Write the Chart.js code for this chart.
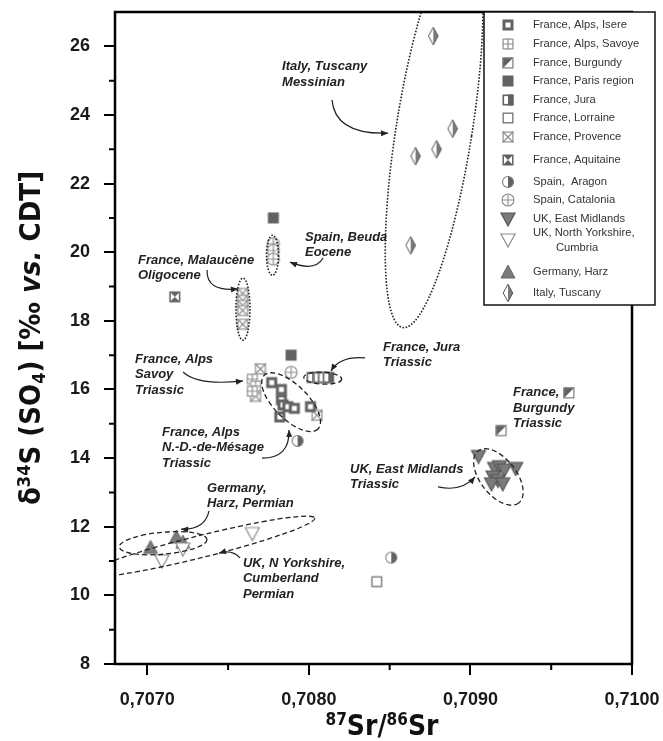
<!DOCTYPE html>
<html>
<head>
<meta charset="utf-8">
<script src="https://cdn.jsdelivr.net/npm/chart.js@4.4.0/dist/chart.umd.min.js"></script>
<style>
  html, body { margin: 0; padding: 0; background: #fff; }
  #wrap { width: 663px; height: 741px; }
</style>
</head>
<body>
<div id="wrap"><canvas id="grafico" width="663" height="741"></canvas></div>
<script>
// axis ticks
const xTicks = [0.7070, 0.7080, 0.7090, 0.7100];
const xMinorTicks = [0.7075, 0.7085, 0.7095];
const yTicks = [8, 10, 12, 14, 16, 18, 20, 22, 24, 26];
const yMinorTicks = [9, 11, 13, 15, 17, 19, 21, 23, 25];

// series values (87Sr/86Sr, d34S)
const isereSr = [0.70777, 0.70783, 0.70783, 0.70784, 0.70787, 0.70791, 0.70801, 0.70782];
const isereS = [16.2, 16.0, 15.7, 15.55, 15.5, 15.45, 15.5, 15.2];
const savoyeSr = [0.70765, 0.70767, 0.70765];
const savoyeS = [16.3, 16.1, 15.95];
const burgundySr = [0.70961, 0.70919];
const burgundyS = [15.9, 14.8];
const parisSr = [0.70778, 0.70789];
const parisS = [21.0, 17.0];
const juraSr = [0.70802, 0.70806, 0.70809, 0.70812];
const juraS = [16.35, 16.35, 16.35, 16.35];
const lorraineSr = [0.70842];
const lorraineS = [10.4];
const provenceSr = [0.70759, 0.70759, 0.70759, 0.70759, 0.70759, 0.70770, 0.70767, 0.70805];
const provenceS = [18.8, 18.6, 18.45, 18.3, 17.9, 16.6, 15.8, 15.25];
const aquitaineSr = [0.70717];
const aquitaineS = [18.7];
const aragonSr = [0.70793, 0.70851];
const aragonS = [14.5, 11.1];
const cataloniaSr = [0.70778, 0.70778, 0.70778, 0.70789];
const cataloniaS = [20.25, 20.05, 19.8, 16.5];
const eastMidSr = [0.70905, 0.70915, 0.70918, 0.70921, 0.70928, 0.70914, 0.70917, 0.70913, 0.70920];
const eastMidS = [14.05, 13.7, 13.75, 13.65, 13.7, 13.45, 13.35, 13.25, 13.25];
const yorksSr = [0.70709, 0.70722, 0.70765];
const yorksS = [11.0, 11.35, 11.8];
const harzSr = [0.70702, 0.70718, 0.70722];
const harzS = [11.4, 11.7, 11.55];
const tuscanySr = [0.70877, 0.70889, 0.70879, 0.70866, 0.70863];
const tuscanyS = [26.3, 23.6, 23.0, 22.8, 20.2];

const NARROW = '"DejaVu Sans Condensed", "Liberation Sans", Arial, sans-serif';
const SANS = '"Liberation Sans", Arial, sans-serif';

// marker glyphs, drawn around the centre of a 22px canvas
function makeMarker(kind) {
  const cv = document.createElement('canvas');
  cv.width = 22; cv.height = 22;
  const g = cv.getContext('2d');
  const c = 11, h = 5.5;
  const dark = '#626262', mid = '#7b7b7b', light = '#8e8e8e';
  const box = (lw, col) => { g.strokeStyle = col; g.lineWidth = lw; g.strokeRect(c - h + lw / 2, c - h + lw / 2, 2 * h - lw, 2 * h - lw); };
  const white = () => { g.fillStyle = '#fff'; g.fillRect(c - h, c - h, 2 * h, 2 * h); };
  switch (kind) {
    case 'isere':
      g.fillStyle = dark; g.fillRect(c - h, c - h, 2 * h, 2 * h);
      g.fillStyle = '#fff'; g.fillRect(c - h + 3, c - h + 3, 2 * h - 6, 2 * h - 6);
      break;
    case 'savoye':
      white(); box(1.2, light);
      g.beginPath(); g.moveTo(c, c - h); g.lineTo(c, c + h); g.moveTo(c - h, c); g.lineTo(c + h, c); g.stroke();
      break;
    case 'burgundy':
      white();
      g.fillStyle = dark;
      g.beginPath(); g.moveTo(c - h, c + h); g.lineTo(c - h, c - h); g.lineTo(c + h, c - h); g.closePath(); g.fill();
      box(1.2, mid);
      break;
    case 'paris':
      g.fillStyle = dark; g.fillRect(c - h, c - h, 2 * h, 2 * h);
      break;
    case 'jura':
      white();
      g.fillStyle = dark; g.fillRect(c, c - h, h, 2 * h);
      box(1.6, dark);
      break;
    case 'lorraine':
      white(); box(1.4, mid);
      break;
    case 'provence':
      white(); box(1.2, light);
      g.beginPath(); g.moveTo(c - h, c - h); g.lineTo(c + h, c + h); g.moveTo(c + h, c - h); g.lineTo(c - h, c + h); g.stroke();
      break;
    case 'aquitaine':
      g.fillStyle = dark; g.fillRect(c - h, c - h, 2 * h, 2 * h);
      g.fillStyle = '#fff';
      g.beginPath(); g.moveTo(c - h + 1.5, c - h + 1.5); g.lineTo(c, c); g.lineTo(c - h + 1.5, c + h - 1.5); g.closePath(); g.fill();
      g.beginPath(); g.moveTo(c + h - 1.5, c - h + 1.5); g.lineTo(c, c); g.lineTo(c + h - 1.5, c + h - 1.5); g.closePath(); g.fill();
      break;
    case 'aragon':
      g.fillStyle = '#fff'; g.beginPath(); g.arc(c, c, 5.5, 0, Math.PI * 2); g.fill();
      g.fillStyle = dark; g.beginPath(); g.arc(c, c, 5.5, -Math.PI / 2, Math.PI / 2); g.fill();
      g.strokeStyle = mid; g.lineWidth = 1.1; g.beginPath(); g.arc(c, c, 5.5, 0, Math.PI * 2); g.stroke();
      break;
    case 'catalonia':
      g.fillStyle = '#fff'; g.beginPath(); g.arc(c, c, 6, 0, Math.PI * 2); g.fill();
      g.strokeStyle = light; g.lineWidth = 1.1; g.stroke();
      g.beginPath(); g.moveTo(c, c - 6); g.lineTo(c, c + 6); g.moveTo(c - 6, c); g.lineTo(c + 6, c); g.stroke();
      break;
    case 'eastmid':
      g.fillStyle = mid; g.strokeStyle = '#555'; g.lineWidth = 1.2;
      g.beginPath(); g.moveTo(c - 7, c - 6); g.lineTo(c + 7, c - 6); g.lineTo(c, c + 7); g.closePath(); g.fill(); g.stroke();
      break;
    case 'yorks':
      g.fillStyle = '#fff'; g.strokeStyle = light; g.lineWidth = 1.2;
      g.beginPath(); g.moveTo(c - 7, c - 6); g.lineTo(c + 7, c - 6); g.lineTo(c, c + 7); g.closePath(); g.fill(); g.stroke();
      break;
    case 'harz':
      g.fillStyle = mid; g.strokeStyle = '#6a6a6a'; g.lineWidth = 1;
      g.beginPath(); g.moveTo(c, c - 7); g.lineTo(c + 7, c + 6); g.lineTo(c - 7, c + 6); g.closePath(); g.fill(); g.stroke();
      break;
    case 'tuscany': {
      const dw = 4.8, dh = 8.8;
      g.fillStyle = '#fff';
      g.beginPath(); g.moveTo(c, c - dh); g.lineTo(c + dw, c); g.lineTo(c, c + dh); g.lineTo(c - dw, c); g.closePath(); g.fill();
      g.fillStyle = mid;
      g.beginPath(); g.moveTo(c, c - dh); g.lineTo(c + dw, c); g.lineTo(c, c + dh); g.closePath(); g.fill();
      g.strokeStyle = '#555'; g.lineWidth = 1;
      g.beginPath(); g.moveTo(c, c - dh); g.lineTo(c + dw, c); g.lineTo(c, c + dh); g.lineTo(c - dw, c); g.closePath(); g.stroke();
      break;
    }
  }
  return cv;
}

const series = [
  { label: 'France, Alps, Isere', kind: 'isere', sr: isereSr, s: isereS },
  { label: 'France, Alps, Savoye', kind: 'savoye', sr: savoyeSr, s: savoyeS },
  { label: 'France, Burgundy', kind: 'burgundy', sr: burgundySr, s: burgundyS },
  { label: 'France, Paris region', kind: 'paris', sr: parisSr, s: parisS },
  { label: 'France, Jura', kind: 'jura', sr: juraSr, s: juraS },
  { label: 'France, Lorraine', kind: 'lorraine', sr: lorraineSr, s: lorraineS },
  { label: 'France, Provence', kind: 'provence', sr: provenceSr, s: provenceS },
  { label: 'France, Aquitaine', kind: 'aquitaine', sr: aquitaineSr, s: aquitaineS },
  { label: 'Spain,  Aragon', kind: 'aragon', sr: aragonSr, s: aragonS },
  { label: 'Spain, Catalonia', kind: 'catalonia', sr: cataloniaSr, s: cataloniaS },
  { label: 'UK, East Midlands', kind: 'eastmid', sr: eastMidSr, s: eastMidS },
  { label: 'UK, North Yorkshire,\nCumbria', kind: 'yorks', sr: yorksSr, s: yorksS },
  { label: 'Germany, Harz', kind: 'harz', sr: harzSr, s: harzS },
  { label: 'Italy, Tuscany', kind: 'tuscany', sr: tuscanySr, s: tuscanyS }
];
series.forEach(d => { d.glyph = makeMarker(d.kind); });

// field groupings: centre in data units, half axes in px, rotation in degrees
const ellipses = [
  { x: 0.708775, y: 23.56, rx: 38, ry: 200, rot: 9, dotted: true },
  { x: 0.707592, y: 18.34, rx: 7, ry: 31, rot: 0, dotted: true },
  { x: 0.707775, y: 19.91, rx: 6, ry: 20, rot: 0, dotted: true },
  { x: 0.708086, y: 16.33, rx: 19, ry: 6, rot: 3, dotted: false },
  { x: 0.707890, y: 15.63, rx: 38, ry: 17, rot: 45, dotted: false },
  { x: 0.709173, y: 13.45, rx: 33, ry: 18, rot: 52, dotted: false },
  { x: 0.707098, y: 11.52, rx: 44, ry: 11, rot: -5, dotted: false },
  { x: 0.707328, y: 11.42, rx: 118, ry: 11, rot: -14, dotted: false }
];

const fieldLabels = [
  { x: 0.707834, y: 25.40, lines: ['Italy, Tuscany', 'Messinian'] },
  { x: 0.707976, y: 20.44, lines: ['Spain, Beuda', 'Eocene'] },
  { x: 0.706942, y: 19.77, lines: ['France, Malaucène', 'Oligocene'] },
  { x: 0.706924, y: 16.89, lines: ['France, Alps', 'Savoy', 'Triassic'] },
  { x: 0.707091, y: 14.76, lines: ['France, Alps', 'N.-D.-de-Mésage', 'Triassic'] },
  { x: 0.708459, y: 17.24, lines: ['France, Jura', 'Triassic'] },
  { x: 0.709264, y: 15.90, lines: ['France,', 'Burgundy', 'Triassic'] },
  { x: 0.708255, y: 13.68, lines: ['UK, East Midlands', 'Triassic'] },
  { x: 0.707370, y: 13.13, lines: ['Germany,', 'Harz, Permian'] },
  { x: 0.707592, y: 10.94, lines: ['UK, N Yorkshire,', 'Cumberland', 'Permian'] }
];

const arrows = [
  { from: [0.708143, 24.44], ctrl: [0.708162, 23.42], to: [0.708490, 23.47] },
  { from: [0.708088, 19.83], ctrl: [0.708038, 19.42], to: [0.707883, 19.71] },
  { from: [0.707370, 19.48], ctrl: [0.707363, 18.84], to: [0.707561, 18.93] },
  { from: [0.707221, 16.51], ctrl: [0.707314, 16.10], to: [0.707592, 16.25] },
  { from: [0.707710, 14.00], ctrl: [0.707883, 14.00], to: [0.707877, 14.82] },
  { from: [0.708348, 16.92], ctrl: [0.708193, 16.98], to: [0.708137, 16.54] },
  { from: [0.708799, 13.16], ctrl: [0.708948, 13.01], to: [0.709028, 13.45] },
  { from: [0.707382, 12.46], ctrl: [0.707357, 11.90], to: [0.707209, 11.93] },
  { from: [0.707574, 11.09], ctrl: [0.707524, 11.35], to: [0.707444, 11.23] }
];

const legendRows = [25, 44, 63, 81, 100, 118, 137, 160, 182, 200, 219, 240, 272, 293];

function partFont(p, size) {
  const sz = p.sup || p.sub ? Math.round(size * 0.62) : size;
  return (p.italic ? 'italic ' : '') + 'bold ' + sz + 'px ' + NARROW;
}
function drawRich(ctx, parts, cx, by, size) {
  let w = 0;
  parts.forEach(p => { ctx.font = partFont(p, size); w += ctx.measureText(p.t).width; });
  let px = cx - w / 2;
  ctx.textAlign = 'left';
  ctx.textBaseline = 'alphabetic';
  parts.forEach(p => {
    ctx.font = partFont(p, size);
    const dy = p.sup ? -size * 0.36 : (p.sub ? size * 0.18 : 0);
    ctx.fillText(p.t, px, by + dy);
    px += ctx.measureText(p.t).width;
  });
}

function noPad(s) {
  s.paddingLeft = 0; s.paddingRight = 0; s.paddingTop = 0; s.paddingBottom = 0;
}

const decor = {
  id: 'decor',
  afterDatasetsDraw(chart) {
    const { ctx, chartArea: a, scales: { x, y } } = chart;
    ctx.save();
    ctx.beginPath();
    ctx.rect(a.left, a.top, a.right - a.left, a.bottom - a.top);
    ctx.clip();
    ctx.strokeStyle = '#222';
    ellipses.forEach(e => {
      ctx.lineWidth = e.dotted ? 1.6 : 1.3;
      ctx.setLineDash(e.dotted ? [1.6, 1.6] : [5, 3]);
      ctx.beginPath();
      ctx.ellipse(x.getPixelForValue(e.x), y.getPixelForValue(e.y), e.rx, e.ry, e.rot * Math.PI / 180, 0, Math.PI * 2);
      ctx.stroke();
    });
    ctx.setLineDash([]);
    ctx.lineWidth = 1.2;
    ctx.fillStyle = '#222';
    arrows.forEach(ar => {
      const p0 = [x.getPixelForValue(ar.from[0]), y.getPixelForValue(ar.from[1])];
      const pc = [x.getPixelForValue(ar.ctrl[0]), y.getPixelForValue(ar.ctrl[1])];
      const p1 = [x.getPixelForValue(ar.to[0]), y.getPixelForValue(ar.to[1])];
      ctx.beginPath();
      ctx.moveTo(p0[0], p0[1]);
      ctx.quadraticCurveTo(pc[0], pc[1], p1[0], p1[1]);
      ctx.stroke();
      const ang = Math.atan2(p1[1] - pc[1], p1[0] - pc[0]);
      ctx.beginPath();
      ctx.moveTo(p1[0], p1[1]);
      ctx.lineTo(p1[0] - 7 * Math.cos(ang) + 3 * Math.sin(ang), p1[1] - 7 * Math.sin(ang) - 3 * Math.cos(ang));
      ctx.lineTo(p1[0] - 7 * Math.cos(ang) - 3 * Math.sin(ang), p1[1] - 7 * Math.sin(ang) + 3 * Math.cos(ang));
      ctx.closePath();
      ctx.fill();
    });
    ctx.font = 'italic bold 13px ' + SANS;
    ctx.textAlign = 'left';
    ctx.textBaseline = 'middle';
    fieldLabels.forEach(l => {
      const lx = x.getPixelForValue(l.x), ly = y.getPixelForValue(l.y);
      l.lines.forEach((t, i) => ctx.fillText(t, lx, ly + i * 15.5));
    });
    ctx.restore();
  },
  afterDraw(chart) {
    const { ctx, chartArea: a, scales: { x, y } } = chart;
    ctx.save();
    // minor ticks
    ctx.strokeStyle = '#000';
    ctx.lineWidth = 2;
    ctx.beginPath();
    yMinorTicks.forEach(v => { const py = y.getPixelForValue(v); ctx.moveTo(a.left - 6, py); ctx.lineTo(a.left, py); });
    xMinorTicks.forEach(v => { const px = x.getPixelForValue(v); ctx.moveTo(px, a.bottom); ctx.lineTo(px, a.bottom + 6); });
    ctx.stroke();
    // frame
    ctx.lineWidth = 2.5;
    ctx.strokeRect(a.left, a.top, a.right - a.left, a.bottom - a.top);
    // axis titles
    ctx.fillStyle = '#111';
    drawRich(ctx, [{ t: '87', sup: true }, { t: 'Sr/' }, { t: '86', sup: true }, { t: 'Sr' }], 382, 735, 28);
    ctx.save();
    ctx.translate(40, (a.top + a.bottom) / 2);
    ctx.rotate(-Math.PI / 2);
    drawRich(ctx, [{ t: 'δ' }, { t: '34', sup: true }, { t: 'S (SO' }, { t: '4', sub: true }, { t: ') [‰ ' }, { t: 'vs.', italic: true }, { t: ' CDT]' }], 0, 0, 29);
    ctx.restore();
    // legend box
    const lx = 484, ly = a.top, lw = 171, lh = 293;
    ctx.fillStyle = '#fff';
    ctx.fillRect(lx, ly, lw, lh);
    ctx.strokeStyle = '#111';
    ctx.lineWidth = 1.5;
    ctx.strokeRect(lx, ly, lw, lh);
    ctx.fillStyle = '#333';
    ctx.font = '11.2px ' + SANS;
    ctx.textBaseline = 'middle';
    ctx.textAlign = 'left';
    series.forEach((d, i) => {
      const ry = legendRows[i];
      ctx.drawImage(d.glyph, 508 - 11, ry - 11);
      const parts = d.label.split('\n');
      if (parts.length === 1) {
        ctx.fillText(parts[0], 533, ry);
      } else {
        ctx.fillText(parts[0], 533, ry - 7.5);
        ctx.fillText(parts[1], 556, ry + 8);
      }
    });
    ctx.restore();
  }
};

const ctx = document.getElementById('grafico').getContext('2d');
const grafico = new Chart(ctx, {
  type: 'scatter',
  data: {
    datasets: series.map(d => ({
      label: d.label,
      data: d.sr.map((v, i) => ({ x: v, y: d.s[i] })),
      pointStyle: d.glyph,
      pointRadius: 5,
      pointHoverRadius: 5
    }))
  },
  options: {
    responsive: false,
    animation: false,
    events: [],
    layout: { padding: { top: 12, right: 31, left: 0, bottom: 0 } },
    plugins: { legend: { display: false }, tooltip: { enabled: false } },
    scales: {
      x: {
        type: 'linear',
        min: 0.7068,
        max: 0.7100,
        afterBuildTicks: s => { s.ticks = xTicks.map(v => ({ value: v })); },
        afterFit: s => { s.height = 77; noPad(s); },
        border: { display: false },
        grid: { drawOnChartArea: false, drawTicks: true, tickLength: 11, color: '#000', lineWidth: 2 },
        ticks: {
          callback: v => v.toFixed(4).replace('.', ','),
          color: '#1a1a1a',
          font: { family: SANS, size: 18, weight: 'bold' },
          padding: 14,
          maxRotation: 0
        }
      },
      y: {
        type: 'linear',
        min: 8,
        max: 27,
        afterBuildTicks: s => { s.ticks = yTicks.map(v => ({ value: v })); },
        afterFit: s => { s.width = 115; noPad(s); },
        border: { display: false },
        grid: { drawOnChartArea: false, drawTicks: true, tickLength: 11, color: '#000', lineWidth: 2 },
        ticks: {
          color: '#1a1a1a',
          font: { family: SANS, size: 18, weight: 'bold' },
          padding: 14
        }
      }
    }
  },
  plugins: [decor]
});
</script>
</body>
</html>
